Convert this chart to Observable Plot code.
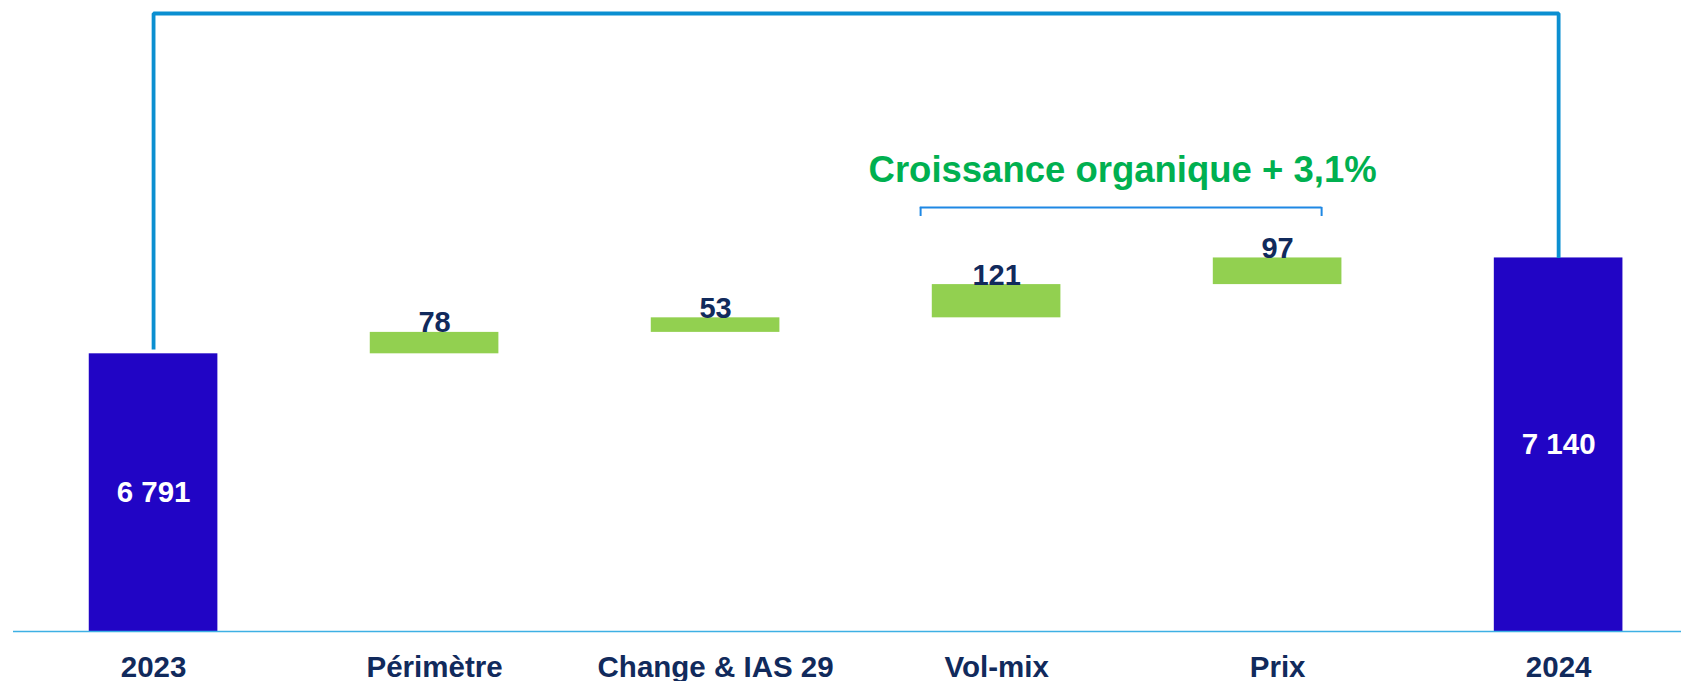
<!DOCTYPE html>
<html>
<head>
<meta charset="utf-8">
<script src="https://cdn.jsdelivr.net/npm/d3@7"></script>
<script src="https://cdn.jsdelivr.net/npm/@observablehq/plot@0.6"></script>
<style>
  html, body { margin: 0; padding: 0; background: white; }
</style>
</head>
<body>
<div id="chart"></div>
<script>
// ---- data ----
const categories = ["2023", "Périmètre", "Change & IAS 29", "Vol-mix", "Prix", "2024"];
const values = [6791, 78, 53, 121, 97, 7140];
const kinds = ["total", "delta", "delta", "delta", "delta", "total"];
const yBase = 5780;            // value at which the (broken) axis starts
const connectorLevel = 8030;   // value level of the top connector line
const connectorGap = 16;       // connector stops a little above the 2023 bar
const bracketGroup = ["Vol-mix", "Prix"];
const bracketLevel = 7324;
const bracketTickEnd = 7291;
const titleLevel = 7418;
const titleText = "Croissance organique + 3,1%";

// ---- styles ----
const NAVY = "#112a5c";
const TOTAL = "#2105c5";
const DELTA = "#92d050";
const GREEN = "#00b050";
const CONNECT = "#0b8fd1";
const BRACKET = "#1f88e4";
const BASE = "#3db0e4";

const fmt = d3.formatLocale({thousands: "\u00a0", grouping: [3], decimal: ","}).format(",");

// ---- waterfall table ----
let cum = 0;
const rows = categories.map((cat, i) => {
  const v = values[i];
  let y1, y2;
  if (kinds[i] === "total") { y1 = yBase; y2 = v; cum = v; }
  else { y1 = cum; y2 = cum + v; cum = y2; }
  return {cat, value: v, kind: kinds[i], y1, y2, label: fmt(v)};
});
const totals = rows.filter(d => d.kind === "total");
const deltas = rows.filter(d => d.kind === "delta");
const first = totals[0], last = totals[totals.length - 1];

const connector = [
  {x: first.cat, y: first.value + connectorGap},
  {x: first.cat, y: connectorLevel},
  {x: last.cat, y: connectorLevel},
  {x: last.cat, y: last.value}
];

const chart = Plot.plot({
  width: 1681,
  height: 681,
  marginTop: 13,
  marginBottom: 50,
  marginLeft: 13,
  marginRight: 0,
  style: {
    fontFamily: "'Liberation Sans', Arial, sans-serif",
    fontSize: "29.5px",
    fontWeight: "bold",
    color: NAVY,
    background: "white",
    overflow: "visible"
  },
  x: {
    domain: categories,
    paddingInner: 0.5423,
    paddingOuter: 0.239,
    align: 0.564,
    round: false,
    tickSize: 0,
    tickPadding: 25,
    label: null
  },
  y: {domain: [yBase, connectorLevel], axis: null},
  marks: [
    Plot.barY(totals, {x: "cat", y1: "y1", y2: "y2", fill: TOTAL}),
    Plot.barY(deltas, {x: "cat", y1: "y1", y2: "y2", fill: DELTA}),
    Plot.ruleY([yBase], {stroke: BASE, strokeWidth: 1.6}),
    Plot.line(connector, {x: "x", y: "y", stroke: CONNECT, strokeWidth: 3.8, strokeLinejoin: "miter", strokeLinecap: "butt", curve: "linear"}),
    Plot.text(totals, {x: "cat", y: d => (d.y1 + d.y2) / 2, text: "label", fill: "white", fontSize: 29.5, fontWeight: "bold"}),
    Plot.text(deltas, {x: "cat", y: "y2", text: "label", fill: NAVY, fontSize: 29, fontWeight: "bold", lineAnchor: "bottom", dy: 0}),
    Plot.ruleY([{a: bracketGroup[0], b: bracketGroup[1], y: bracketLevel}], {x1: "a", x2: "b", y: "y", stroke: BRACKET, strokeWidth: 2, insetLeft: -12, insetRight: 20}),
    Plot.ruleX([{x: bracketGroup[0], y1: bracketTickEnd, y2: bracketLevel}], {x: "x", y1: "y1", y2: "y2", stroke: BRACKET, strokeWidth: 2, dx: -76}),
    Plot.ruleX([{x: bracketGroup[1], y1: bracketTickEnd, y2: bracketLevel}], {x: "x", y1: "y1", y2: "y2", stroke: BRACKET, strokeWidth: 2, dx: 44}),
    Plot.text([{x: bracketGroup[0], y: titleLevel, t: titleText}], {x: "x", y: "y", text: "t", fill: GREEN, fontSize: 36.5, fontWeight: "bold", lineAnchor: "bottom", textAnchor: "middle", dx: 126})
  ]
});
document.getElementById("chart").appendChild(chart);
</script>
</body>
</html>
